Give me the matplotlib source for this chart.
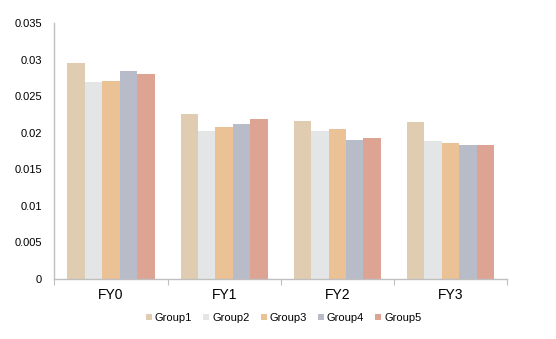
import numpy as np
import matplotlib.pyplot as plt

plt.rcParams['font.family'] = ['Liberation Sans', 'DejaVu Sans']

years = ['FY0', 'FY1', 'FY2', 'FY3']
groups = ['Group1', 'Group2', 'Group3', 'Group4', 'Group5']
group1 = [0.0295, 0.0226, 0.0216, 0.0215]
group2 = [0.0269, 0.0202, 0.0202, 0.0189]
group3 = [0.0270, 0.0207, 0.0205, 0.0186]
group4 = [0.0284, 0.0212, 0.0190, 0.0183]
group5 = [0.0280, 0.0219, 0.0193, 0.0183]
colors = ['#E0CCB0', '#E4E5E7', '#EBC196', '#B8BCC8', '#DDA393']

series = [group1, group2, group3, group4, group5]

fig = plt.figure(figsize=(5.56, 3.39), dpi=100)
ax = fig.add_axes([0.098, 0.178, 0.814, 0.754])

x = np.arange(len(years))
w = 0.154
for i, (vals, c, name) in enumerate(zip(series, colors, groups)):
    ax.bar(x + (i - 2) * w, vals, w, color=c, label=name, linewidth=0)

ax.set_xlim(-0.5, 3.5)
ax.set_ylim(0, 0.035)
ax.set_yticks(np.arange(0, 0.0351, 0.005))
ax.set_yticklabels(['0', '0.005', '0.01', '0.015', '0.02', '0.025', '0.03', '0.035'])

# category boundaries get the tick marks, names sit in between
ax.set_xticks(np.arange(-0.5, 3.6, 1.0))
ax.set_xticklabels([])
ax.set_xticks(x, minor=True)
ax.set_xticklabels(years, minor=True)
ax.tick_params(axis='x', which='major', length=4, color='#BFBFBF')
ax.tick_params(axis='x', which='minor', length=0, pad=7)
ax.tick_params(axis='y', length=0, pad=9)
ax.tick_params(labelsize=8)

for s in ['top', 'right']:
    ax.spines[s].set_visible(False)
for s in ['left', 'bottom']:
    ax.spines[s].set_color('#BFBFBF')
    ax.spines[s].set_linewidth(1.0)

fig.legend(loc='center', bbox_to_anchor=(0.51, 0.062), ncol=5, frameon=False,
           fontsize=8, handlelength=0.55, handleheight=0.55,
           handletextpad=0.25, columnspacing=1.0)

fig.savefig('out.png', dpi=100)
